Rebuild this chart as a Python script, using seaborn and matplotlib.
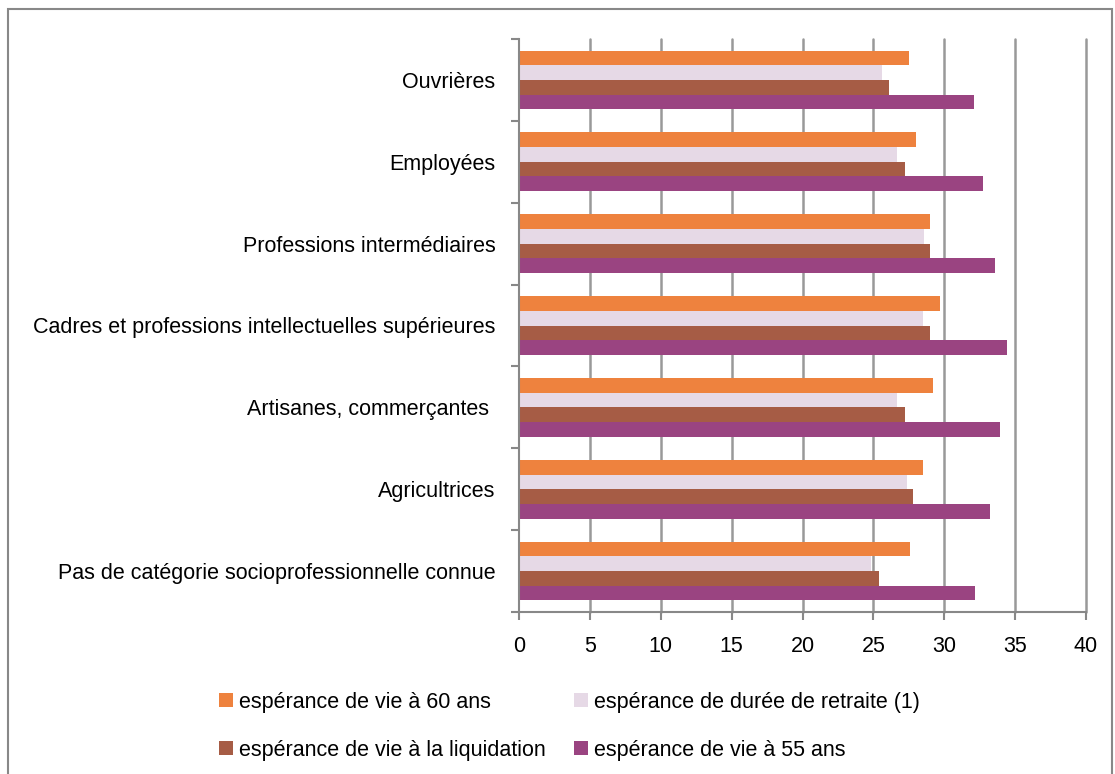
import matplotlib
matplotlib.use("Agg")
import matplotlib.pyplot as plt
import seaborn as sns
import pandas as pd
import numpy as np
from matplotlib.patches import Rectangle, Patch

categories = [
    "Ouvrières",
    "Employées",
    "Professions intermédiaires",
    "Cadres et professions intellectuelles supérieures",
    "Artisanes, commerçantes ",
    "Agricultrices",
    "Pas de catégorie socioprofessionnelle connue",
]
series = [
    "espérance de vie à 60 ans",
    "espérance de durée de retraite (1)",
    "espérance de vie à la liquidation",
    "espérance de vie à 55 ans",
]
vie_60 = [27.5, 28.0, 29.0, 29.7, 29.2, 28.5, 27.6]
duree_retraite = [25.6, 26.7, 28.6, 28.5, 26.7, 27.4, 24.8]
vie_liquidation = [26.1, 27.2, 29.0, 29.0, 27.2, 27.8, 25.4]
vie_55 = [32.1, 32.7, 33.6, 34.4, 33.9, 33.2, 32.2]
xticks = [0, 5, 10, 15, 20, 25, 30, 35, 40]
colors = ["#EE823E", "#E6D9E6", "#A65C45", "#9A4481"]

rows = []
for s, vals in zip(series, [vie_60, duree_retraite, vie_liquidation, vie_55]):
    for c, v in zip(categories, vals):
        rows.append({"cat": c, "serie": s, "val": v})
df = pd.DataFrame(rows)

sns.set_theme(style="white")
plt.rcParams["font.family"] = ["Liberation Sans", "DejaVu Sans"]
plt.rcParams["text.color"] = "black"
fs = 15.5

fig = plt.figure(figsize=(11.15, 7.74), dpi=100)
ax = fig.add_axes([519/1115, 1-612/774, (1086-519)/1115, (612-39)/774])

sns.barplot(data=df, y="cat", x="val", hue="serie", order=categories,
            hue_order=series, palette=colors, width=0.716, ax=ax,
            orient="h", legend=False, saturation=1, linewidth=0)

ax.set_xlim(0, 40)
ax.set_ylim(len(categories)-0.5, -0.5)
ax.set_xticks(xticks)
ax.set_xticklabels([str(t) for t in xticks])
ax.set_xlabel("")
ax.set_ylabel("")
ax.tick_params(axis="y", which="major", length=0, pad=17, labelsize=fs, labelcolor="black")
ax.set_yticks(np.arange(-0.5, len(categories), 1.0), minor=True)
ax.tick_params(axis="y", which="minor", length=6, width=1.5, color="#888888", direction="out", left=True)
ax.tick_params(axis="x", which="major", length=6, width=1.5, color="#888888", direction="out",
               bottom=True, pad=11, labelsize=fs, labelcolor="black")
for x in xticks[1:]:
    ax.axvline(x, color="#999999", lw=1.8, zorder=0, clip_on=False)
for sp in ["top", "right"]:
    ax.spines[sp].set_visible(False)
for sp in ["left", "bottom"]:
    ax.spines[sp].set_color("#888888")
    ax.spines[sp].set_linewidth(1.5)
ax.grid(False)
ax.set_axisbelow(True)

# outer frame
fig.patches.append(Rectangle((8/1115, -0.02), (1112-8)/1115, 1.02 - 9/774,
                             transform=fig.transFigure, fill=False,
                             edgecolor="#888888", lw=1.5))

handles = [Patch(facecolor=c, edgecolor="none") for c in colors]
order = [0, 2, 1, 3]
px = fs * 100 / 72
fig.legend([handles[i] for i in order], [series[i] for i in order],
           ncol=2, loc="upper left", bbox_to_anchor=(210/1115, 1-683/774),
           frameon=False, fontsize=fs, handlelength=14/px, handleheight=14/px,
           handletextpad=6/px, columnspacing=29/px,
           labelspacing=1.25, borderaxespad=0)

fig.savefig("out.png", dpi=100)
